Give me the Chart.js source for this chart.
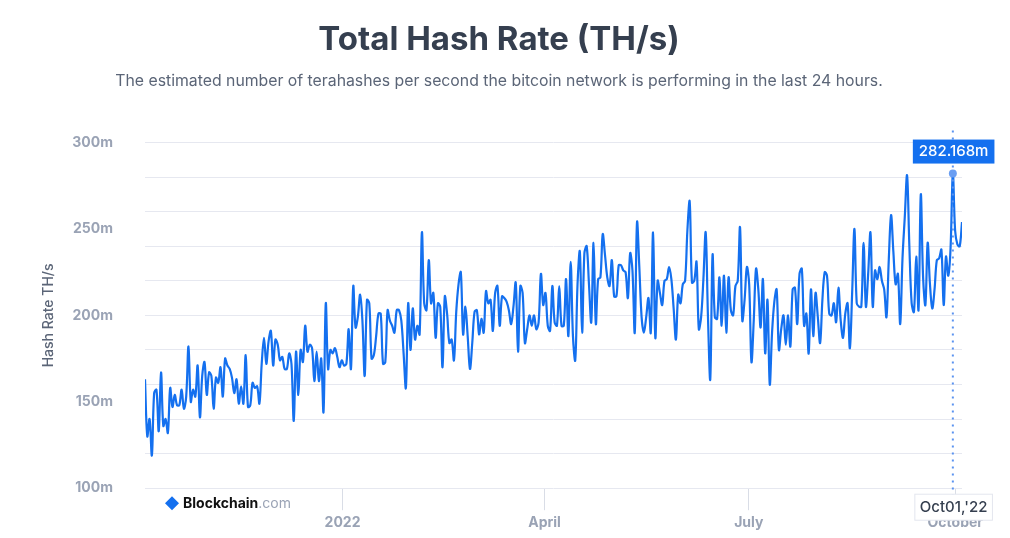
<!DOCTYPE html>
<html>
<head>
<meta charset="utf-8">
<script src="https://cdn.jsdelivr.net/npm/chart.js@4"></script>
<style>
  html, body { margin: 0; padding: 0; background: #fff; }
  #wrap { width: 1010px; height: 538px; }
</style>
</head>
<body>
<div id="wrap"><canvas id="hashChart"></canvas></div>
<script>
// daily hash rate (millions of TH/s), Oct 2021 - Oct 2022
const hashRate = [
  163,130,140,119,155,157,133,167,136,140,132,158,147,154,148,148,157,146,153,182,
  150,157,153,171,141,165,173,154,167,165,146,164,161,170,153,175,171,169,164,155,
  163,149,159,149,177,147,148,161,158,159,149,172,187,172,185,191,171,186,183,174,
  176,169,169,178,172,139,179,154,180,173,194,179,183,181,162,179,162,175,144,207,
  169,180,178,181,176,170,174,171,172,192,169,217,193,199,212,197,165,209,207,175,
  177,188,201,201,172,173,203,197,194,190,203,203,197,178,158,207,180,204,186,194,
  189,248,207,203,232,207,213,187,207,205,170,211,201,184,186,174,202,218,225,189,
  205,188,169,184,202,203,189,198,190,214,207,209,191,213,217,194,211,210,208,203,
  195,205,219,179,217,213,184,192,200,194,200,192,196,224,206,213,194,191,217,196,
  194,217,194,194,221,188,231,188,174,218,237,190,236,240,218,196,242,195,221,222,
  247,235,222,217,232,211,211,229,229,226,225,210,236,226,190,254,228,199,190,199,
  210,190,248,187,220,213,206,220,221,228,221,204,186,212,207,218,220,249,266,219,
  220,231,192,199,221,248,199,163,235,199,198,222,194,223,190,222,203,200,217,220,
  251,197,209,228,218,173,197,227,215,193,221,178,209,160,190,208,215,180,192,200,
  183,200,182,215,216,195,224,227,194,201,178,215,188,213,199,184,209,225,223,201,
  200,207,196,216,197,187,201,207,181,213,250,207,205,205,242,205,224,248,205,226,
  221,228,220,215,199,232,258,237,218,224,195,233,257,281,240,207,202,234,203,270,
  222,206,242,218,204,215,232,233,238,206,234,223,239,282.168,249,241,240,254
];
const monthLabels = ["2022", "April", "July", "October"];
const monthDays = [89, 179, 270, 362]; // days since Oct 4 2021
const yLabelSteps = [100, 150, 200, 250, 300];
const firstDay = 1;
const lastDay = 365;

// samples spread evenly over the period
const step = (lastDay - firstDay) / (hashRate.length - 1);
const points = hashRate.map((v, i) => ({ x: firstDay + i * step, y: v }));
const peakIdx = hashRate.indexOf(282.168);

const lineBlue = "#1470ef";
const muted = "#9aa3b5";

const overlayPlugin = {
  id: "overlay",
  afterDraw(chart) {
    const { ctx, chartArea, scales } = chart;
    const px = scales.x.getPixelForValue(points[peakIdx].x);
    const py = scales.y.getPixelForValue(282.168);
    ctx.save();
    // dotted crosshair
    ctx.strokeStyle = "#5b93f0";
    ctx.lineWidth = 2;
    ctx.setLineDash([2, 5]);
    ctx.beginPath();
    ctx.moveTo(px, chartArea.top - 12);
    ctx.lineTo(px, chartArea.bottom + 20);
    ctx.stroke();
    ctx.setLineDash([]);
    ctx.fillStyle = "#6a9ef2";
    ctx.beginPath();
    ctx.arc(px, py, 4, 0, Math.PI * 2);
    ctx.fill();
    // value box
    ctx.font = "500 15px Inter, 'Open Sans', sans-serif";
    const label = "282.168m";
    const w = ctx.measureText(label).width + 12;
    ctx.fillStyle = "#1470ef";
    ctx.fillRect(px - 40, chartArea.top - 3, w, 24);
    ctx.fillStyle = "#fff";
    ctx.textBaseline = "middle";
    ctx.fillText(label, px - 34, chartArea.top + 9);
    // date box
    const dLabel = "Oct01,'22";
    const dw = ctx.measureText(dLabel).width + 10;
    ctx.fillStyle = "#fff";
    ctx.strokeStyle = "#e3e6ee";
    ctx.lineWidth = 1;
    ctx.fillRect(px - 38, chartArea.bottom + 6, dw, 26);
    ctx.strokeRect(px - 38, chartArea.bottom + 6, dw, 26);
    ctx.fillStyle = "#353f4f";
    ctx.fillText(dLabel, px - 33, chartArea.bottom + 19);
    // logo
    const lx = chartArea.left + 27, ly = chartArea.bottom + 15;
    ctx.fillStyle = "#1470ef";
    ctx.beginPath();
    ctx.moveTo(lx, ly - 7); ctx.lineTo(lx + 7, ly); ctx.lineTo(lx, ly + 7); ctx.lineTo(lx - 7, ly);
    ctx.closePath(); ctx.fill();
    ctx.font = "bold 14px Inter, sans-serif";
    ctx.fillStyle = "#111";
    ctx.fillText("Blockchain", lx + 11, ly + 1);
    const bw = ctx.measureText("Blockchain").width;
    ctx.font = "14px Inter, sans-serif";
    ctx.fillStyle = muted;
    ctx.fillText(".com", lx + 11 + bw, ly + 1);
    ctx.restore();
  }
};

new Chart(document.getElementById("hashChart"), {
  type: "line",
  data: {
    datasets: [{
      data: points,
      borderColor: lineBlue,
      borderWidth: 2.2,
      pointRadius: 0,
      tension: 0.35,
      fill: false,
    }],
  },
  options: {
    responsive: true,
    maintainAspectRatio: false,
    animation: false,
    layout: { padding: { left: 36, right: 48, top: 0, bottom: 3 } },
    plugins: {
      legend: { display: false },
      tooltip: { enabled: false },
      title: {
        display: true,
        text: "Total Hash Rate (TH/s)",
        color: "#353f4f",
        font: { family: "Inter, 'Open Sans', sans-serif", size: 33, weight: "bold" },
        padding: { top: 20, bottom: 12 },
      },
      subtitle: {
        display: true,
        text: "The estimated number of terahashes per second the bitcoin network is performing in the last 24 hours.",
        color: "#5b6577",
        font: { family: "Inter, 'Open Sans', sans-serif", size: 15.8 },
        padding: { bottom: 52 },
      },
    },
    scales: {
      x: {
        type: "linear",
        min: firstDay,
        max: lastDay,
        afterBuildTicks(axis) {
          axis.ticks = monthDays.map((d) => ({ value: d }));
        },
        ticks: {
          autoSkip: false,
          maxRotation: 0,
          padding: 4,
          color: muted,
          font: { family: "Inter, sans-serif", size: 14, weight: "bold" },
          callback: (v) => monthLabels[monthDays.indexOf(v)] ?? "",
        },
        grid: { drawOnChartArea: false, tickLength: 22, color: "#d9dde6" },
        border: { display: false },
      },
      y: {
        min: 100,
        max: 300,
        afterFit(axis) { axis.width = 109; },
        ticks: {
          stepSize: 10,
          autoSkip: false,
          padding: 32,
          color: muted,
          font: { family: "Inter, sans-serif", size: 14, weight: "bold" },
          callback: (v) => (yLabelSteps.includes(v) ? v + "m" : ""),
        },
        grid: {
          drawTicks: false,
          color: (c) => (c.tick.value % 20 === 0 ? "#e6e8f0" : "rgba(0,0,0,0)"),
        },
        border: { display: false },
        title: {
          display: true,
          text: "Hash Rate TH/s",
          color: "#5b6577",
          font: { family: "Inter, sans-serif", size: 14, weight: "500" },
        },
      },
    },
  },
  plugins: [overlayPlugin],
});
</script>
</body>
</html>
